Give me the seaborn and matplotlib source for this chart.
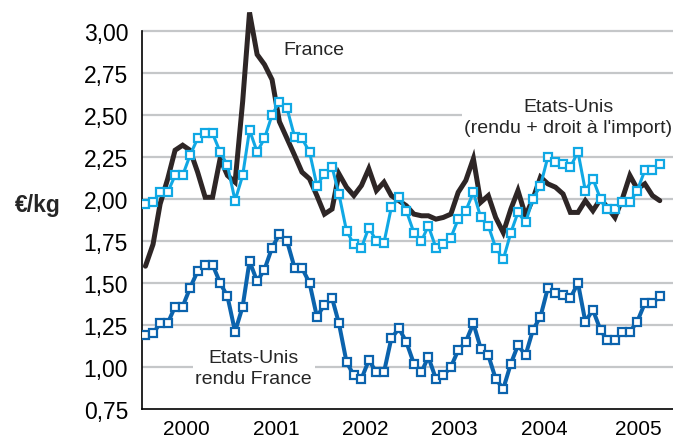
import numpy as np
import pandas as pd
import seaborn as sns
import matplotlib.pyplot as plt
import matplotlib.dates as mdates
from matplotlib.ticker import FixedLocator, NullFormatter

''' DATA '''
months = pd.date_range('2000-01-01', periods=70, freq='MS') + pd.Timedelta(days=14)

france = [1.60, 1.73, 1.97, 2.12, 2.29, 2.32, 2.29, 2.16, 2.01, 2.01, 2.24, 2.14,
          2.10, 2.58, 3.11, 2.86, 2.80, 2.71, 2.46, 2.36, 2.26, 2.16, 2.12, 2.02,
          1.91, 1.94, 2.15, 2.07, 2.02, 2.08, 2.18, 2.05, 2.10, 2.02, 1.99, 1.96,
          1.91, 1.90, 1.90, 1.88, 1.89, 1.91, 2.04, 2.11, 2.24, 1.98, 2.02, 1.89,
          1.80, 1.94, 2.05, 1.90, 2.00, 2.13, 2.09, 2.07, 2.03, 1.92, 1.92, 1.99,
          1.93, 2.00, 1.95, 1.89, 2.00, 2.14, 2.06, 2.09, 2.02, 1.99]

us_import = [1.97, 1.98, 2.04, 2.04, 2.14, 2.14, 2.26, 2.36, 2.39, 2.39, 2.28, 2.20,
             1.99, 2.14, 2.41, 2.28, 2.36, 2.50, 2.58, 2.54, 2.37, 2.36, 2.28, 2.08,
             2.15, 2.19, 2.03, 1.81, 1.73, 1.71, 1.83, 1.75, 1.74, 1.95, 2.01, 1.93,
             1.80, 1.75, 1.84, 1.71, 1.73, 1.77, 1.88, 1.93, 2.04, 1.89, 1.84, 1.71,
             1.64, 1.80, 1.92, 1.86, 2.00, 2.08, 2.25, 2.22, 2.21, 2.19, 2.28, 2.05,
             2.12, 2.00, 1.94, 1.94, 1.98, 1.98, 2.05, 2.17, 2.17, 2.21]

us_france = [1.19, 1.20, 1.26, 1.26, 1.36, 1.36, 1.47, 1.57, 1.61, 1.61, 1.50, 1.42,
             1.21, 1.36, 1.63, 1.51, 1.58, 1.71, 1.79, 1.75, 1.59, 1.59, 1.50, 1.30,
             1.37, 1.41, 1.26, 1.03, 0.95, 0.93, 1.04, 0.97, 0.97, 1.17, 1.23, 1.15,
             1.02, 0.97, 1.06, 0.93, 0.95, 1.00, 1.10, 1.15, 1.26, 1.11, 1.07, 0.93,
             0.87, 1.02, 1.13, 1.07, 1.22, 1.30, 1.47, 1.44, 1.43, 1.41, 1.50, 1.27,
             1.34, 1.22, 1.16, 1.16, 1.21, 1.21, 1.27, 1.38, 1.38, 1.42]

y_ticks = [0.75, 1.00, 1.25, 1.50, 1.75, 2.00, 2.25, 2.50, 2.75, 3.00]
years = ['2000', '2001', '2002', '2003', '2004', '2005']

''' PLOT '''
sns.set_theme(style='white')
plt.rcParams['font.family'] = ['Liberation Sans', 'DejaVu Sans']

fig = plt.figure(figsize=(6.73, 4.39), dpi=100)
ax = fig.add_axes([0.211, 0.066, 0.789, 0.934])

grid_col = '#c5c7c9'
for v in y_ticks[1:]:
    ax.axhline(v, color=grid_col, lw=1.6, zorder=0)

sns.lineplot(x=months, y=france, ax=ax, color='#2e2626', lw=3.6,
             solid_joinstyle='miter', zorder=3)
sns.lineplot(x=months, y=us_import, ax=ax, color='#10a8e4', lw=2.2,
             marker='s', markersize=6.3, markerfacecolor='white',
             markeredgecolor='#10a8e4', markeredgewidth=1.6, zorder=4)
sns.lineplot(x=months, y=us_france, ax=ax, color='#0b63ad', lw=2.9,
             marker='s', markersize=6.3, markerfacecolor='white',
             markeredgecolor='#0b63ad', markeredgewidth=1.6, zorder=5)

x0 = pd.Timestamp('2000-01-01')
ax.set_xlim(x0, x0 + pd.Timedelta(days=2168))
ax.set_ylim(0.75, 3.19)

for s in ['top', 'right']:
    ax.spines[s].set_visible(False)
ax.spines['left'].set_bounds(0.75, 3.00)
for s in ['left', 'bottom']:
    ax.spines[s].set_color('black')
    ax.spines[s].set_linewidth(1.2)

ax.set_yticks(y_ticks)
ax.set_yticklabels([f'{v:.2f}'.replace('.', ',') for v in y_ticks])
ax.tick_params(axis='y', length=0, pad=10, labelsize=16.5, labelcolor='black')

major = [pd.Timestamp(f'{y}-01-01') for y in years[1:]]
minor = [pd.Timestamp(f'{y}-07-01') for y in years]
minor[-1] = pd.Timestamp('2005-07-20')
ax.xaxis.set_major_locator(FixedLocator(mdates.date2num(major)))
ax.xaxis.set_major_formatter(NullFormatter())
ax.set_xticks(mdates.date2num(minor), years, minor=True)
ax.tick_params(axis='x', which='major', direction='in', length=4, width=1, color='black')
ax.tick_params(axis='x', which='minor', length=0, pad=7, labelsize=15, labelcolor='black')
ax.set_xlabel('')
ax.set_ylabel('')

ax.text(pd.Timestamp('2001-08-01'), 2.89, 'France', fontsize=14, ha='left', va='center', zorder=2)
ax.text(pd.Timestamp('2004-10-07'), 2.49, "Etats-Unis\n(rendu + droit à l'import)", fontsize=14,
        ha='center', va='center', linespacing=1.3, zorder=2,
        bbox=dict(facecolor='white', edgecolor='none', pad=2))
ax.text(pd.Timestamp('2001-04-01'), 0.994, 'Etats-Unis\nrendu France', fontsize=14,
        ha='center', va='center', linespacing=1.3, zorder=2,
        bbox=dict(facecolor='white', edgecolor='none', pad=2))

fig.text(0.022, 0.532, '€/kg', fontsize=16.5, fontweight='bold', ha='left', va='center')

fig.savefig('out.png', dpi=100)
